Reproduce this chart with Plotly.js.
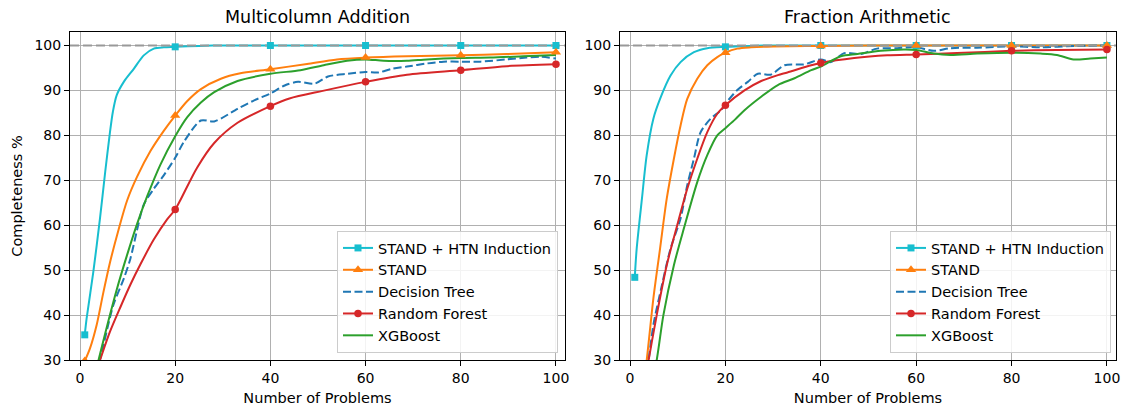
<!DOCTYPE html>
<html><head><meta charset="utf-8">
<script src="https://cdn.plot.ly/plotly-3.0.1.min.js"></script>
<style>html,body{margin:0;padding:0;background:#fff}</style>
</head><body><div id="chart" style="width:1130px;height:408px"></div>
<script>
// ---------------- DATA ----------------
const panelTitles = ['Multicolumn Addition', 'Fraction Arithmetic'];
const seriesNames = ['STAND + HTN Induction', 'STAND', 'Decision Tree', 'Random Forest', 'XGBoost'];
const markerX = [1, 20, 40, 60, 80, 100];
const xTicks = [0, 20, 40, 60, 80, 100];
const yTicks = [30, 40, 50, 60, 70, 80, 90, 100];
const refLevel = 100;
const xLabel = 'Number of Problems';
const yLabel = 'Completeness %';

// Multicolumn Addition
const htnL_x = [1, 1.4, 2.8, 4.2, 5.3, 6.3, 6.9, 7.7, 9.2, 11.3, 13.4, 15.5, 17.6, 20, 25, 30, 40, 50, 60, 70, 80, 90, 100];
const htnL_y = [35.6, 39.3, 49.6, 61.5, 71.9, 80.7, 85.2, 88.9, 91.9, 94.8, 97.8, 99.3, 99.6, 99.7, 99.9, 100, 100, 100, 100, 100, 100, 100, 100];
const standL_x = [1, 2.1, 3.5, 4.9, 6.3, 8.1, 9.9, 12, 14.8, 17.6, 20, 22.5, 25.4, 29.6, 33.7, 40, 47.7, 54, 60, 68.7, 80, 89.7, 100];
const standL_y = [29.8, 32.6, 37.8, 45.0, 51.7, 59.0, 65.5, 70.8, 76.5, 81.0, 84.4, 87.6, 90.3, 92.6, 93.8, 94.7, 95.9, 96.9, 97.3, 97.6, 97.8, 98.1, 98.5];
const dtL_x = [1, 4.2, 7.0, 9.2, 10.6, 12.0, 13.4, 15.5, 17.6, 20, 21.8, 25.4, 28.2, 33.1, 36.6, 40, 43, 45.8, 49.3, 52.1, 56.3, 60, 62.7, 65.5, 68.7, 72.9, 76.4, 80, 84.1, 89.7, 93.8, 96.6, 100];
const dtL_y = [17, 30, 42.2, 48.1, 52.6, 59.0, 64.6, 68.1, 71.1, 75.0, 78.5, 83.3, 83.1, 85.9, 87.8, 89.3, 91.1, 91.9, 91.5, 93.1, 93.7, 94.1, 94.0, 94.8, 95.3, 96.0, 96.4, 96.4, 96.4, 96.9, 97.3, 97.5, 97.1];
const rfL_x = [1, 4.2, 6.3, 8.5, 10.6, 12.7, 15.5, 18.3, 20, 21.1, 24.6, 28.2, 33.1, 40, 44, 51, 60, 68.7, 80, 89.7, 100];
const rfL_y = [20, 30, 36.3, 41.8, 46.8, 51.3, 56.8, 61.3, 63.5, 65.6, 72.8, 78.3, 82.8, 86.5, 88.2, 89.9, 91.9, 93.5, 94.5, 95.4, 95.8];
const xgbL_x = [1, 3.9, 5.6, 7.7, 9.9, 12, 14.1, 16.9, 20, 22.5, 25.4, 28.2, 33.1, 40, 46.3, 51.2, 56.1, 60, 63.8, 68.7, 72.9, 80, 86.2, 93.1, 100];
const xgbL_y = [17, 30, 37.2, 45.6, 53.4, 60.3, 66.4, 73.5, 79.8, 84.0, 87.3, 89.6, 92.1, 93.7, 94.5, 95.6, 96.6, 96.9, 96.6, 96.6, 96.9, 97.2, 97.3, 97.6, 97.9];

// Fraction Arithmetic
const htnR_x = [1, 1.4, 2.5, 3.5, 4.9, 6.3, 8.5, 10.6, 13.4, 16.2, 20, 25, 30, 40, 50, 60, 70, 80, 90, 100];
const htnR_y = [48.4, 54.8, 65.9, 75.6, 83.7, 88.1, 93.3, 96.3, 98.5, 99.4, 99.7, 99.9, 100, 100, 100, 100, 100, 100, 100, 100];
const standR_x = [1, 3.5, 4.9, 6.3, 7.7, 9.2, 10.6, 12, 14.1, 16.2, 18.3, 20, 22.5, 25.4, 30, 40, 50, 60, 70, 80, 90, 100];
const standR_y = [10, 30, 43.7, 54.8, 65.9, 74.8, 82.2, 88.1, 92.6, 95.6, 97.4, 98.4, 99.3, 99.6, 99.8, 99.9, 100, 100, 100, 100, 100, 100];
const dtR_x = [1, 3.9, 4.9, 6.7, 8.5, 10.6, 12, 13.4, 14.8, 16.9, 19.1, 20, 22.5, 24.7, 26.8, 29.5, 32.4, 36.5, 40, 42.1, 44.9, 48.4, 51.8, 56, 60, 63.7, 67.2, 72.8, 80, 86.1, 93, 100];
const dtR_y = [10, 30, 37.8, 46.7, 54.8, 61.5, 68.9, 74.8, 80.7, 83.7, 85.6, 87.0, 90.1, 91.9, 93.7, 93.5, 95.6, 95.8, 96.9, 96.3, 98.3, 98.1, 99.3, 99.4, 99.6, 98.8, 99.4, 99.5, 99.8, 99.6, 99.9, 100];
const rfR_x = [1, 3.9, 5.6, 7.7, 9.9, 12, 14.1, 16.2, 18.3, 20, 24, 27.5, 31, 33, 38, 40, 47, 53.9, 60, 68.6, 80, 89.5, 100];
const rfR_y = [12, 30, 40, 51.1, 60, 68.1, 74.8, 80.7, 84.8, 86.7, 90, 92.1, 93.4, 94.0, 95.6, 96.1, 97.2, 97.8, 98.0, 98.3, 98.8, 99.0, 99.1];
const xgbR_x = [1, 5.6, 7, 9.2, 11.3, 14.1, 16.2, 18.3, 20, 22, 24, 27.5, 31, 34.5, 38, 40, 44.2, 47.7, 52.6, 57.4, 60, 63.7, 67.2, 72.8, 80, 86.1, 89.5, 93, 96.5, 100];
const xgbR_y = [5, 30, 40, 51.1, 59.3, 69.6, 75.6, 80.0, 81.6, 83.5, 85.6, 88.6, 91.2, 92.7, 94.5, 95.3, 97.6, 98.1, 98.8, 99.1, 99.0, 98.2, 97.9, 98.2, 98.4, 98.2, 97.9, 96.9, 97.1, 97.3];

// ---------------- STYLE ----------------
const FONT = 'DejaVu Sans, Liberation Sans, sans-serif';
const styles = [
  {color: '#17becf', dash: 'solid', symbol: 'square', size: 7},
  {color: '#ff7f0e', dash: 'solid', symbol: 'triangle-up', size: 9},
  {color: '#1f77b4', dash: '8px,3.5px', symbol: null},
  {color: '#d62728', dash: 'solid', symbol: 'circle', size: 7.5},
  {color: '#2ca02c', dash: 'solid', symbol: null}
];
const panels = [
  {xs: [htnL_x, standL_x, dtL_x, rfL_x, xgbL_x], ys: [htnL_y, standL_y, dtL_y, rfL_y, xgbL_y]},
  {xs: [htnR_x, standR_x, dtR_x, rfR_x, xgbR_x], ys: [htnR_y, standR_y, dtR_y, rfR_y, xgbR_y]}
];
const xRange = [-2.1, 101.9];
const yRange = [30, 103];
const W = 1130, H = 408, MT = 32, MB = 48;
const plotH = H - MT - MB;
const domains = [[70 / W, 565 / W], [620 / W, 1116 / W]];

const traces = [];
panels.forEach((p, pi) => {
  const sfx = pi === 0 ? '' : '2';
  const xa = 'x' + sfx, ya = 'y' + sfx;
  p.xs.forEach((xv, si) => {
    const st = styles[si];
    traces.push({x: xv, y: p.ys[si], xaxis: xa, yaxis: ya, mode: 'lines', showlegend: false, hoverinfo: 'skip',
      line: {color: st.color, width: 2, dash: st.dash, shape: 'spline', smoothing: 0.8}});
  });
  traces.push({x: xRange, y: [refLevel, refLevel], xaxis: xa, yaxis: ya, mode: 'lines', showlegend: false,
    hoverinfo: 'skip', line: {color: '#999999', width: 2, dash: '9px,4px'}});
  p.xs.forEach((xv, si) => {
    const st = styles[si];
    if (!st.symbol) return;
    const mx = [], my = [];
    xv.forEach((v, i) => { if (markerX.includes(v)) { mx.push(v); my.push(p.ys[si][i]); } });
    traces.push({x: mx, y: my, xaxis: xa, yaxis: ya, mode: 'markers', showlegend: false, hoverinfo: 'skip',
      marker: {color: st.color, symbol: st.symbol, size: st.size, line: {width: 0}}});
  });
  seriesNames.forEach((nm, si) => {
    const st = styles[si];
    const t = {x: [null], y: [null], xaxis: xa, yaxis: ya, name: nm, legend: pi === 0 ? 'legend' : 'legend2',
      mode: st.symbol ? 'lines+markers' : 'lines', line: {color: st.color, width: 2, dash: st.dash}};
    if (st.symbol) t.marker = {color: st.color, symbol: st.symbol, size: st.size, line: {width: 0}};
    traces.push(t);
  });
});

function xaxisDef(pi) {
  return {domain: domains[pi], range: xRange, anchor: pi === 0 ? 'y' : 'y2', tickvals: xTicks,
    showline: true, mirror: true, linecolor: '#000', linewidth: 1, ticks: 'outside', ticklen: 5, tickwidth: 1,
    tickcolor: '#000', showgrid: true, gridcolor: '#b0b0b0', gridwidth: 1, zeroline: false,
    tickfont: {family: FONT, size: 14, color: '#000'},
    title: {text: xLabel, font: {family: FONT, size: 14.5, color: '#000'}, standoff: 8}};
}
function yaxisDef(pi) {
  const a = {domain: [0, 1], range: yRange, anchor: pi === 0 ? 'x' : 'x2', tickvals: yTicks,
    showline: true, mirror: true, linecolor: '#000', linewidth: 1, ticks: 'outside', ticklen: 5, tickwidth: 1,
    tickcolor: '#000', showgrid: true, gridcolor: '#b0b0b0', gridwidth: 1, zeroline: false,
    tickfont: {family: FONT, size: 14, color: '#000'}};
  if (pi === 0) a.title = {text: yLabel, font: {family: FONT, size: 14.5, color: '#000'}, standoff: 8};
  return a;
}
function legendDef(xRight) {
  return {x: xRight, xanchor: 'right', y: (360 - 353) / plotH, yanchor: 'bottom',
    bgcolor: 'rgba(255,255,255,0.85)', bordercolor: '#cccccc', borderwidth: 1,
    font: {family: FONT, size: 14.5, color: '#000'}, traceorder: 'normal', itemwidth: 30};
}

const layout = {
  width: W, height: H, margin: {l: 0, r: 0, t: MT, b: MB}, paper_bgcolor: '#fff', plot_bgcolor: '#fff',
  font: {family: FONT, color: '#000'},
  xaxis: xaxisDef(0), yaxis: yaxisDef(0), xaxis2: xaxisDef(1), yaxis2: yaxisDef(1),
  legend: legendDef(558 / W), legend2: legendDef(1111 / W),
  annotations: panelTitles.map((t, i) => ({text: t, xref: 'paper', yref: 'paper',
    x: (domains[i][0] + domains[i][1]) / 2, y: 1 + (MT - 17) / plotH, xanchor: 'center', yanchor: 'middle',
    showarrow: false, font: {family: FONT, size: 17.5, color: '#000'}}))
};

Plotly.newPlot('chart', traces, layout, {staticPlot: true, displayModeBar: false});
</script></body></html>
